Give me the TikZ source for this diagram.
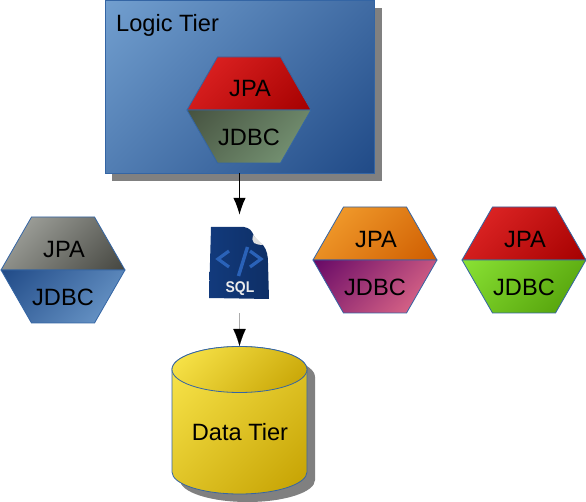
\documentclass[tikz,border=0pt]{standalone}
\usepackage{fontspec}
\setmainfont{Liberation Sans}
\usetikzlibrary{arrows.meta}
\definecolor{edgeblue}{HTML}{3465A4}
\definecolor{shadowgray}{HTML}{808080}
\definecolor{logicA}{HTML}{729FCF}
\definecolor{logicB}{HTML}{204A87}
\definecolor{cylA}{HTML}{FCE94F}
\definecolor{cylB}{HTML}{C4A000}
\definecolor{navyA}{HTML}{123A7C}
\definecolor{navyB}{HTML}{0E2F66}
\definecolor{sqlblue}{HTML}{2A62B8}
\definecolor{shaftgray}{HTML}{ABABAB}
\tikzset{
  lbl/.style={inner sep=0pt,text=black,font=\fontsize{23.6}{27}\selectfont},
  outline/.style={draw=edgeblue,line width=0.8pt,line join=round},
  tipline/.style={line width=1.2pt,-{Latex[length=17pt,width=12.5pt]}},
  logicbox/.style={outline,minimum width=269pt,minimum height=173pt,inner sep=0pt}
}
% x0, y0, x1, y1 of the box the 45-degree gradient runs across, light colour, dark colour, path
\newcommand{\diagfill}[7]{%
  \begin{scope}
    \clip #7;
    \pgfmathsetmacro{\gradspan}{((#3)-(#1)+(#4)-(#2))*0.35355}
    \path[transform canvas={shift={({((#1)+(#3))/2},{((#2)+(#4))/2})},rotate=45},
      top color=#5,bottom color=#6] (-\gradspan pt,-\gradspan pt) rectangle (\gradspan pt,\gradspan pt);
  \end{scope}
  \path[outline] #7;
}
% name, cx, cy, top light, top dark, bottom start, bottom end
\newcommand{\jpahex}[7]{%
  \definecolor{hexA}{HTML}{#4}\definecolor{hexB}{HTML}{#5}\definecolor{hexC}{HTML}{#6}\definecolor{hexD}{HTML}{#7}%
  \diagfill{#2-62}{#3-53}{#2+62}{#3}{hexA}{hexB}{(#2-31.5,#3-53) -- (#2+31.5,#3-53) -- (#2+62,#3) -- (#2-62,#3) -- cycle}
  \diagfill{#2-62}{#3}{#2+62}{#3+53}{hexC}{hexD}{(#2-62,#3) -- (#2+62,#3) -- (#2+31.5,#3+53) -- (#2-31.5,#3+53) -- cycle}
  \node[lbl] (#1jpa) at (#2+1,#3-21) {JPA};
  \node[lbl] (#1jdbc) at (#2,#3+27) {JDBC};
}
\begin{document}
\begin{tikzpicture}[x=1pt,y=-1pt]
\useasboundingbox (0,0) rectangle (586,502);
% logic tier
\fill[shadowgray] (112,8) rectangle (382,181);
\diagfill{105}{0}{374}{173}{logicA}{logicB}{(105,0) rectangle (374,173)}
\node[logicbox] (logic) at (239.5,86.5) {};
\node[lbl,anchor=west] (logiclabel) at (116,25) {Logic Tier};
\jpahex{a}{249}{110}{E42626}{A40000}{465240}{7C9C7A}
\jpahex{b}{63}{270}{ACAEA8}{44453F}{204A87}{729FCF}
\jpahex{c}{375}{260}{F6A432}{CE5C00}{660866}{EC748C}
\jpahex{d}{524}{260}{E62A2A}{A40000}{8AE234}{4E9A06}
% SQL icon
\node[minimum width=60pt,minimum height=98pt,inner sep=0pt] (sql) at (239.5,264) {};
\path[left color=navyA,right color=navyB]
  (211,227) -- (244,227) .. controls (250,228) and (252,231) .. (254,236)
  .. controls (257,241) and (261,244) .. (263,245)
  .. controls (267,250) and (268,256) .. (268,263) -- (269,299) -- (209,298) -- cycle;
\fill[black!12] (253,235) -- (263,245) .. controls (259,245) and (256,244) .. (254,243) .. controls (252,241) and (252,238) .. (253,235) -- cycle;
\draw[sqlblue,line width=3.2pt,line join=miter] (229,251) -- (218,259) -- (229,267);
\draw[sqlblue,line width=3.2pt,line join=miter] (250,251) -- (261,259) -- (250,267);
\draw[sqlblue,line width=3.4pt] (247.5,247) -- (238.5,276);
\node[inner sep=0pt,text=black!8,font=\fontsize{15.5}{17}\selectfont\bfseries,xscale=0.9] (sqllabel) at (240,288.5) {SQL};
% data tier
\coordinate (datatop) at (239.5,346);
\fill[shadowgray] (180,377) -- (315,377) -- (315,480) arc[start angle=0,end angle=180,x radius=67.5,y radius=22] -- cycle;
\fill[shadowgray] (247.5,377) ellipse[x radius=67.5,y radius=23];
\diagfill{172}{346.5}{307}{494}{cylA}{cylB}{(172,369.5) -- (172,472) arc[start angle=180,end angle=0,x radius=67.5,y radius=22] -- (307,369.5) arc[start angle=0,end angle=-180,x radius=67.5,y radius=23] -- cycle}
\diagfill{172}{346.5}{307}{392.5}{cylA}{cylB}{(239.5,369.5) ellipse[x radius=67.5,y radius=23]}
\node[lbl] (data) at (240,432) {Data Tier};
% connectors
\draw[tipline,black] (logic.south) -- (sql.north);
\draw[line width=1.2pt,draw=shaftgray] (sql.south) -- ([yshift=12pt]datatop);
\draw[tipline,black,line width=0.1pt] ([yshift=17pt]datatop) -- (datatop);
\end{tikzpicture}
\end{document}
